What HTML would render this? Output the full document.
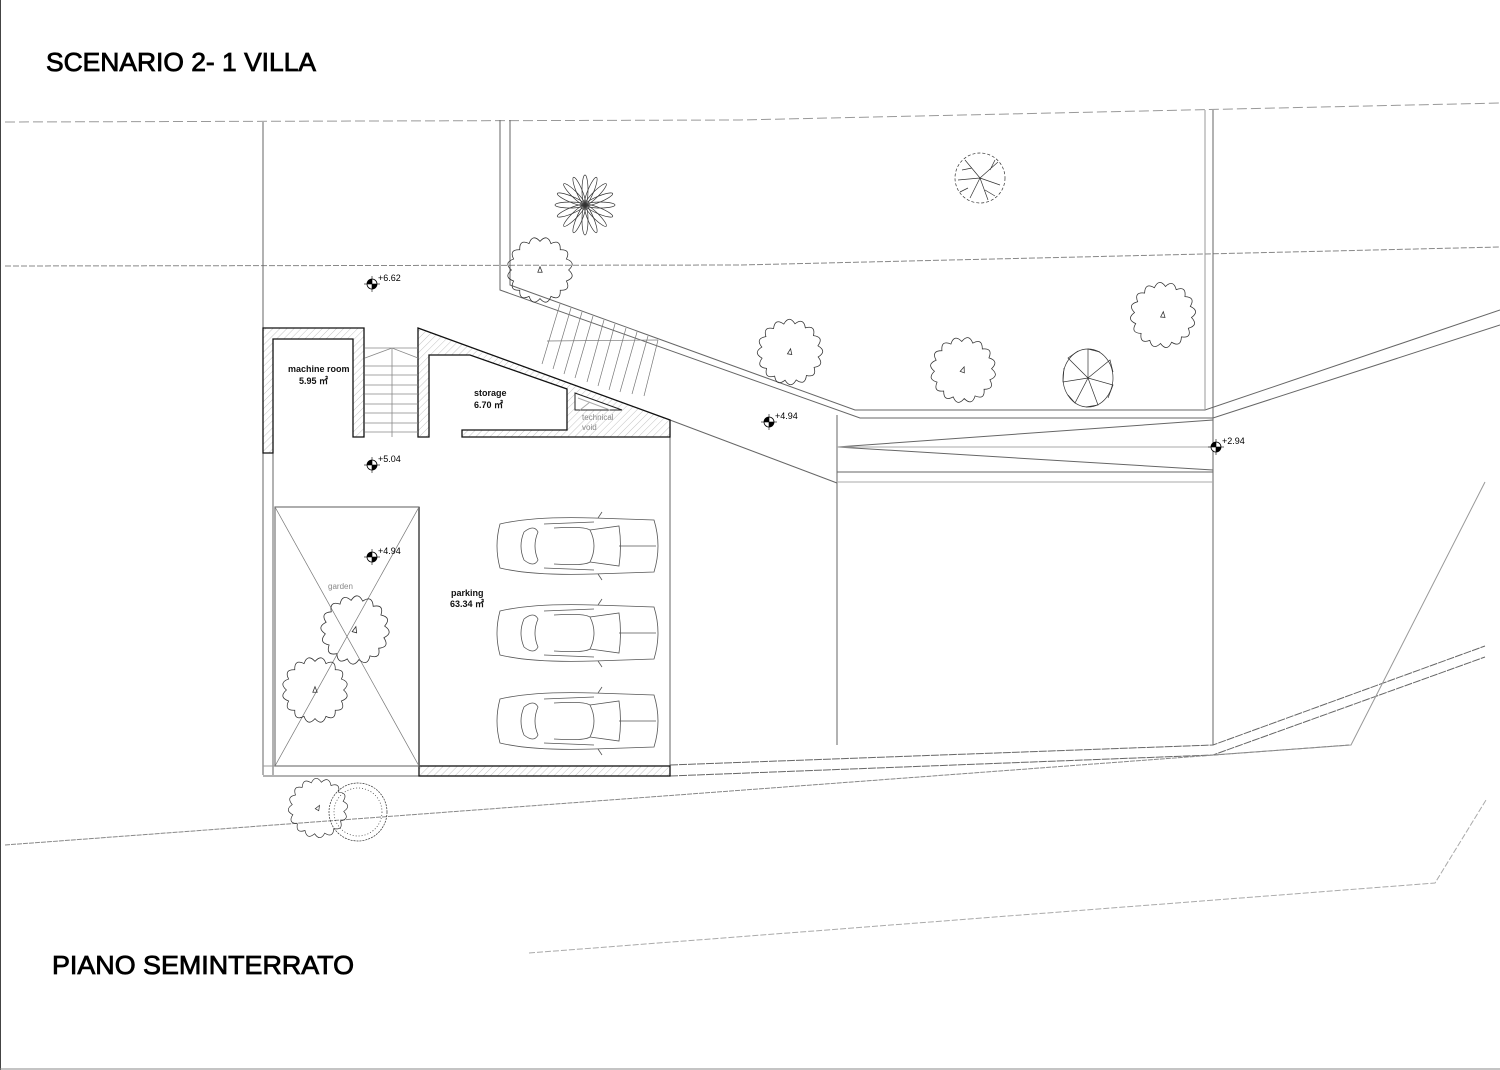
<!DOCTYPE html>
<html><head><meta charset="utf-8"><style>
html,body{margin:0;padding:0;background:#fff}
svg{display:block}
text{font-family:"Liberation Sans",sans-serif}
</style></head><body>
<svg width="1500" height="1070" viewBox="0 0 1500 1070" xmlns="http://www.w3.org/2000/svg">
<defs>
<pattern id="h" width="5" height="5" patternUnits="userSpaceOnUse" patternTransform="rotate(45)">
<line x1="0" y1="0" x2="0" y2="5" stroke="#aaa" stroke-width="0.7"/>
</pattern>
<g id="car" fill="none" stroke="#555" stroke-width="0.8">
<path d="M6,10 Q40,2 100,4 L160,6 Q168,32 160,58 L100,60 Q40,62 6,54 Q0,32 6,10Z"/>
<path d="M30,18 Q40,10 44,18 Q38,32 44,46 Q40,54 30,46 Q24,32 30,18Z"/>
<path d="M60,14 Q90,12 96,16 Q104,32 96,48 Q90,52 60,50"/>
<path d="M96,16 L125,12 Q128,32 125,52 L96,48"/>
<line x1="125" y1="32" x2="162" y2="32"/>
<path d="M50,10 L100,8 M50,54 L100,56"/>
<path d="M104,4 L108,-2 M104,60 L108,66"/>
</g>
<g id="mk"><circle r="5" fill="#fff" stroke="#000" stroke-width="0.8"/><path d="M0,0 L0,-5 A5,5 0 0 0 -5,0Z M0,0 L0,5 A5,5 0 0 0 5,0Z" fill="#000"/><line x1="0" y1="-8" x2="0" y2="8" stroke="#000" stroke-width="0.6"/><line x1="-8" y1="0" x2="8" y2="0" stroke="#000" stroke-width="0.6"/></g>
<g id="cl" fill="none" stroke="#333" stroke-width="0.7">
<path d="M26,0 Q33.4,6.6 24,9.95 Q28.3,18.9 18.4,18.4 Q18.9,28.3 9.95,24 Q6.6,33.4 0,26 Q-6.6,33.4 -9.95,24 Q-18.9,28.3 -18.4,18.4 Q-28.3,18.9 -24,9.95 Q-33.4,6.6 -26,0 Q-33.4,-6.6 -24,-9.95 Q-28.3,-18.9 -18.4,-18.4 Q-18.9,-28.3 -9.95,-24 Q-6.6,-33.4 0,-26 Q6.6,-33.4 9.95,-24 Q18.9,-28.3 18.4,-18.4 Q28.3,-18.9 24,-9.95 Q33.4,-6.6 26,0Z"/>
<path d="M0,-3 l-2,5 l4,0z"/>
</g>
<g id="star" fill="none" stroke="#333" stroke-width="0.7">
<ellipse cx="15" cy="0" rx="15" ry="3"/>
<ellipse cx="15" cy="0" rx="15" ry="3" transform="rotate(22.5)"/>
<ellipse cx="15" cy="0" rx="15" ry="3" transform="rotate(45)"/>
<ellipse cx="15" cy="0" rx="15" ry="3" transform="rotate(67.5)"/>
<ellipse cx="15" cy="0" rx="15" ry="3" transform="rotate(90)"/>
<ellipse cx="15" cy="0" rx="15" ry="3" transform="rotate(112.5)"/>
<ellipse cx="15" cy="0" rx="15" ry="3" transform="rotate(135)"/>
<ellipse cx="15" cy="0" rx="15" ry="3" transform="rotate(157.5)"/>
<ellipse cx="15" cy="0" rx="15" ry="3" transform="rotate(180)"/>
<ellipse cx="15" cy="0" rx="15" ry="3" transform="rotate(202.5)"/>
<ellipse cx="15" cy="0" rx="15" ry="3" transform="rotate(225)"/>
<ellipse cx="15" cy="0" rx="15" ry="3" transform="rotate(247.5)"/>
<ellipse cx="15" cy="0" rx="15" ry="3" transform="rotate(270)"/>
<ellipse cx="15" cy="0" rx="15" ry="3" transform="rotate(292.5)"/>
<ellipse cx="15" cy="0" rx="15" ry="3" transform="rotate(315)"/>
<ellipse cx="15" cy="0" rx="15" ry="3" transform="rotate(337.5)"/>
</g>
</defs>
<g fill="none" stroke="#666" stroke-width="1">
<line x1="0.5" y1="0" x2="0.5" y2="1070" stroke="#444"/>
<line x1="0" y1="1069" x2="1500" y2="1069" stroke="#888"/>
<polyline points="5,122 740,120 1500,103" stroke="#999" stroke-dasharray="10,4"/>
<polyline points="5,266 740,265 1500,247" stroke="#888" stroke-dasharray="6,2"/>
<line x1="263" y1="122" x2="263" y2="775"/>
<polyline points="500,120 500,290 860,418 1213,418 1500,325"/>
<polyline points="510,120 510,285 855,410 1205,410 1500,310"/>
<line x1="1205" y1="110" x2="1205" y2="410" stroke="#999"/>
<line x1="1213" y1="110" x2="1213" y2="418"/>
<line x1="670" y1="420" x2="837" y2="483"/>
<line x1="837" y1="415" x2="837" y2="745"/>
<line x1="1213" y1="418" x2="1213" y2="745"/>
<line x1="837" y1="447" x2="1213" y2="420"/>
<line x1="837" y1="447" x2="1213" y2="470"/>
<line x1="837" y1="447" x2="1213" y2="447" stroke="#aaa"/>
<line x1="837" y1="472" x2="1213" y2="472"/>
<line x1="837" y1="482" x2="1213" y2="482" stroke="#aaa"/>
<polyline points="670,765 1213,745 1485,646" stroke-dasharray="8,1"/>
<polyline points="670,776 1213,755 1485,657" stroke-dasharray="8,1"/>
<polyline points="1213,755 1351,745 1485,482" stroke="#999"/>
<line x1="5" y1="845" x2="1349" y2="745" stroke="#888" stroke-dasharray="5,1"/>
<polyline points="529,953 1435,883 1486,800" stroke="#aaa" stroke-dasharray="6,2"/>
<line x1="273" y1="437" x2="273" y2="775"/>
<line x1="670" y1="437" x2="670" y2="776"/>
<line x1="263" y1="766" x2="419" y2="766" stroke="#999"/>
<line x1="263" y1="776" x2="419" y2="776"/>
</g>
<g stroke="#111" stroke-width="1.3">
<path d="M263,328 H364 V437 H353 V339 H273 V453 H263Z" fill="url(#h)"/>
<path d="M418,328 L670,420 V437 H462 V430 H567 V389 L470,355 H429 V437 H418Z" fill="url(#h)"/>
<rect x="419" y="766" width="251" height="10" fill="url(#h)"/>
<line x1="419" y1="507" x2="419" y2="766" stroke-width="1.6"/>
</g>
<path d="M575,393 V410 H622Z" fill="#fff" stroke="#222"/>
<path d="M578,398 L610,410 M590,402 L580,410" stroke="#aaa" fill="none"/>
<g stroke="#888" stroke-width="0.8" fill="none">
<path d="M365,348 H418 M365,358 L392,348 L418,358 M392,348 V437"/>
<path d="M365,366H418M365,375H418M365,385H418M365,394H418M365,404H418M365,413H418M365,423H418M365,432H418"/>
</g>
<g stroke="#777" stroke-width="0.7" fill="none">
<path d="M560,304 L542,364 M571,308 L553,369 M582,312 L564,374 M593,316 L575,378 M604,320 L587,382 M615,324 L598,386 M626,328 L609,390 M637,332 L620,392 M648,336 L632,394 M658,340 L644,396"/>
<path d="M547,341 L658,340"/>
</g>
<g stroke="#777" stroke-width="0.7" fill="none">
<rect x="275" y="507" width="144" height="259" stroke-width="1.2"/>
<line x1="275" y1="507" x2="419" y2="766"/><line x1="419" y1="507" x2="275" y2="766"/>
</g>
<use href="#star" x="585" y="205"/>
<use href="#cl" transform="translate(540,270) scale(1.1)"/>
<use href="#cl" transform="translate(790,352) scale(1.1) rotate(10)"/>
<use href="#cl" transform="translate(963,370) scale(1.1) rotate(20)"/>
<use href="#cl" transform="translate(1163,315) scale(1.1) rotate(5)"/>
<use href="#cl" transform="translate(355,630) scale(1.15) rotate(15)"/>
<use href="#cl" transform="translate(315,690) scale(1.1)"/>
<use href="#cl" transform="translate(318,808) scale(1.0) rotate(30)"/>
<g fill="none" stroke="#333" stroke-width="0.7">
<circle cx="980" cy="178" r="25" stroke-dasharray="3,2"/>
<path d="M980,178 L965,160 M980,178 L998,162 M980,178 L1000,185 M980,178 L970,198 M980,178 L988,200 M980,178 L958,180 M972,168 L962,170 M990,170 L995,160 M985,190 L995,196 M968,188 L960,192"/>
<circle cx="358" cy="812" r="29" stroke-dasharray="2,1"/>
<circle cx="358" cy="812" r="24" stroke-dasharray="1,2"/>
<ellipse cx="1088" cy="378" rx="25" ry="29"/>
<path d="M1088,378 L1088,349 L1100,352 M1088,378 L1110,360 L1113,372 M1088,378 L1113,385 L1108,398 M1088,378 L1098,405 L1086,407 M1088,378 L1075,403 L1068,395 M1088,378 L1063,382 L1064,368 M1088,378 L1068,358 L1078,351"/>
</g>
<use href="#car" x="494" y="514"/>
<use href="#car" x="494" y="601"/>
<use href="#car" x="494" y="689"/>
<use href="#mk" x="372" y="284"/><use href="#mk" x="372" y="465"/><use href="#mk" x="372" y="557"/><use href="#mk" x="769" y="422"/><use href="#mk" x="1216" y="447"/>
<g font-size="9" fill="#000">
<text x="378" y="281">+6.62</text><text x="378" y="462">+5.04</text><text x="378" y="554">+4.94</text><text x="775" y="419">+4.94</text><text x="1222" y="444">+2.94</text>
</g>
<g font-size="9" font-weight="bold" fill="#111">
<text x="288" y="372">machine room</text><text x="299" y="384">5.95 ㎡</text>
<text x="474" y="396">storage</text><text x="474" y="408">6.70 ㎡</text>
<text x="451" y="596">parking</text><text x="450" y="607">63.34 ㎡</text>
</g>
<g font-size="8" fill="#888"><text x="582" y="420">technical</text><text x="582" y="430">void</text><text x="328" y="589">garden</text></g>
<text x="46" y="71" font-size="26" fill="#000" stroke="#000" stroke-width="0.8" textLength="270" lengthAdjust="spacingAndGlyphs">SCENARIO 2- 1 VILLA</text>
<text x="52" y="974" font-size="26" fill="#000" stroke="#000" stroke-width="0.8" textLength="302" lengthAdjust="spacingAndGlyphs">PIANO SEMINTERRATO</text>
</svg>
</body></html>
